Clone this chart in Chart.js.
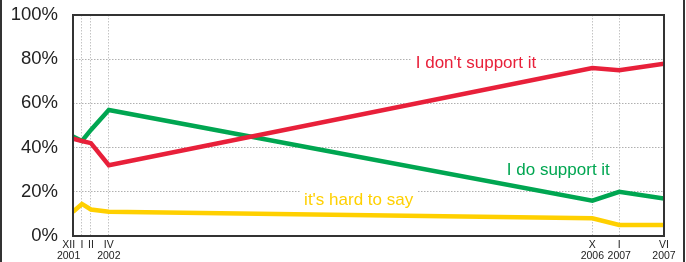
<!DOCTYPE html>
<html>
<head>
<meta charset="utf-8">
<script src="https://cdn.jsdelivr.net/npm/chart.js@4/dist/chart.umd.min.js"></script>
<style>
  html, body { margin: 0; padding: 0; background: #fff; }
  #wrap { width: 686px; height: 262px; position: relative; }
</style>
</head>
<body>
<div id="wrap"><canvas id="chart" width="686" height="262"></canvas></div>
<script>
// months counted from XII 2001
const months = [0, 1, 2, 4, 58, 61, 66];
const monthLabels = [['XII   ', '2001   '], ['I'], ['II'], ['IV', '2002'], ['X', '2006'], ['I', '2007'], ['VI', '2007']];

const dontSupport = [44, 43, 42, 32, 76, 75, 78];
const doSupport = [45, 43, 48, 57, 16, 20, 17];
const hardToSay = [11, 14.5, 12, 11, 8, 5, 5];

const yTicks = [0, 20, 40, 60, 80, 100];

// label anchors in data units: [month, percent]
const seriesNotes = [
  { text: "I don't support it", at: [45, 78.3], color: '#e8203a' },
  { text: 'I do support it', at: [54.2, 29.9], color: '#00a651' },
  { text: "it's hard to say", at: [31.9, 16.3], color: '#ffd000' },
];

const toPoints = vals => vals.map((v, i) => ({ x: months[i], y: v }));

const frame = {
  id: 'frame',
  beforeDatasetsDraw(chart) {
    const { ctx, scales } = chart;
    ctx.save();
    ctx.font = '17px "Liberation Sans", Arial, sans-serif';
    ctx.textAlign = 'center';
    ctx.textBaseline = 'middle';
    seriesNotes.forEach(n => {
      const x = scales.x.getPixelForValue(n.at[0]);
      const y = scales.y.getPixelForValue(n.at[1]);
      const w = ctx.measureText(n.text).width;
      ctx.fillStyle = '#fff';
      ctx.fillRect(x - w / 2 - 4, y - 10, w + 8, 20);
      ctx.fillStyle = n.color;
      ctx.fillText(n.text, x, y);
    });
    ctx.restore();
  },
  afterDraw(chart) {
    const { ctx, chartArea: a } = chart;
    ctx.save();
    ctx.strokeStyle = '#333';
    ctx.lineWidth = 2;
    ctx.strokeRect(a.left, a.top, a.right - a.left, a.bottom - a.top);
    ctx.beginPath();
    ctx.moveTo(1, 0); ctx.lineTo(1, chart.height);
    ctx.moveTo(684, 0); ctx.lineTo(684, chart.height);
    ctx.stroke();
    ctx.restore();
  }
};

new Chart(document.getElementById('chart'), {
  type: 'line',
  data: {
    datasets: [
      { label: "I don't support it", data: toPoints(dontSupport), borderColor: '#e8203a' },
      { label: 'I do support it', data: toPoints(doSupport), borderColor: '#00a651' },
      { label: "it's hard to say", data: toPoints(hardToSay), borderColor: '#ffd000' },
    ]
  },
  options: {
    responsive: false,
    animation: false,
    layout: { padding: { left: 0, right: 22, top: 15, bottom: 0 } },
    elements: {
      line: { borderWidth: 4.5, tension: 0, borderJoinStyle: 'miter', fill: false },
      point: { radius: 0 }
    },
    plugins: { legend: { display: false }, tooltip: { enabled: false } },
    scales: {
      x: {
        type: 'linear',
        min: months[0],
        max: months[months.length - 1],
        afterBuildTicks: s => { s.ticks = months.map(v => ({ value: v })); },
        afterFit: s => { s.height = 26; s.paddingLeft = 0; s.paddingRight = 0; },
        ticks: {
          autoSkip: false,
          maxRotation: 0,
          padding: 4,
          color: '#222',
          font: { family: '"Liberation Sans", Arial, sans-serif', size: 10.5, lineHeight: 1.05 },
          callback: (v) => monthLabels[months.indexOf(v)]
        },
        grid: {
          drawTicks: false,
          color: ctx => (ctx.index === 0 || ctx.index === months.length - 1) ? 'rgba(0,0,0,0)' : '#c4c4c4',
          lineWidth: 1
        },
        border: { display: false, dash: [1.5, 1.5] }
      },
      y: {
        min: 0,
        max: 100,
        afterBuildTicks: s => { s.ticks = yTicks.map(v => ({ value: v })); },
        afterFit: s => { s.width = 73; s.paddingTop = 0; s.paddingBottom = 0; },
        ticks: {
          padding: 15,
          color: '#222',
          font: { family: '"Liberation Sans", Arial, sans-serif', size: 18.5 },
          callback: v => v + '%'
        },
        grid: {
          drawTicks: false,
          color: ctx => (ctx.index === 0 || ctx.index === yTicks.length - 1) ? 'rgba(0,0,0,0)' : '#b0b0b0',
          lineWidth: 1
        },
        border: { display: false, dash: [1.5, 1.5] }
      }
    }
  },
  plugins: [frame]
});
</script>
</body>
</html>
